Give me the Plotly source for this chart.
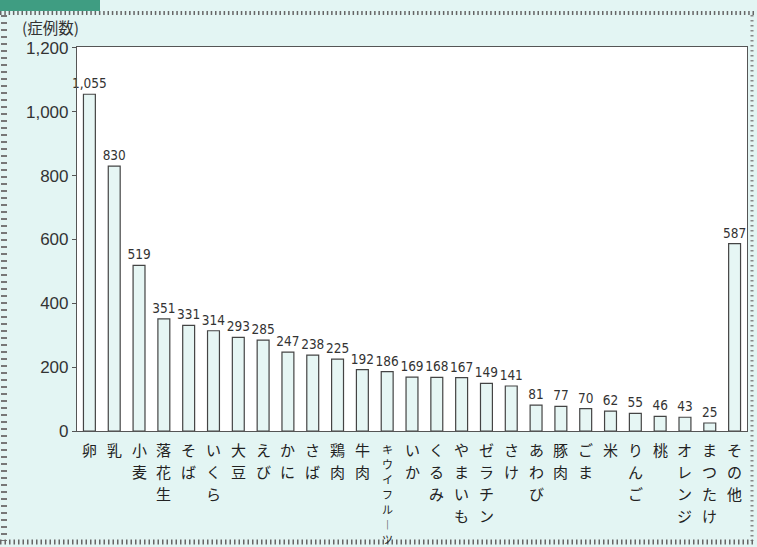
import plotly.graph_objects as go

categories = ["卵", "乳", "小麦", "落花生", "そば", "いくら", "大豆", "えび", "かに", "さば",
              "鶏肉", "牛肉", "キウイフルーツ", "いか", "くるみ", "やまいも", "ゼラチン", "さけ",
              "あわび", "豚肉", "ごま", "米", "りんご", "桃", "オレンジ", "まつたけ", "その他"]
cases = [1055, 830, 519, 351, 331, 314, 293, 285, 247, 238, 225, 192, 186, 169, 168, 167,
         149, 141, 81, 77, 70, 62, 55, 46, 43, 25, 587]
y_ticks = [0, 200, 400, 600, 800, 1000, 1200]
y_title = "(症例数)"

W, H = 757, 547
L, R, T, B = 77, 10, 47, 116
pw, ph = W - L - R, H - T - B

def px2x(px):
    return (px - L) / pw

def px2y(py):
    return (H - B - py) / ph

BG = "#e3f5f3"
fig = go.Figure()
fig.add_trace(go.Bar(
    x=list(range(len(categories))), y=cases, width=0.48,
    marker=dict(color="#e6f6f4", line=dict(color="#444444", width=1.2)),
    texttemplate="%{y:,}", textposition="outside", cliponaxis=False,
    constraintext="none", textangle=0,
    textfont=dict(family="DejaVu Sans Condensed, Liberation Sans Narrow, sans-serif",
                  size=13.5, color="#333333"),
    hoverinfo="skip",
))

annotations = []
for i, c in enumerate(categories):
    chars = ["︱" if ch == "ー" else ch for ch in c]
    long = len(chars) > 5
    size = 11 if long else 15
    step = 15 if long else 22
    for j, ch in enumerate(chars):
        annotations.append(dict(
            x=i, xref="x", y=px2y(449 + j * step), yref="paper",
            yanchor="middle", xanchor="center", text=ch, showarrow=False,
            font=dict(family="Noto Sans CJK JP", size=size, color="#222222"),
            borderpad=0,
        ))
annotations.append(dict(
    x=px2x(20), xref="paper", y=px2y(27), yref="paper", xanchor="left", yanchor="middle",
    text=y_title, showarrow=False,
    font=dict(family="Noto Sans CJK JP", size=15.5, color="#333333"),
))

shapes = [
    dict(type="rect", xref="paper", yref="paper", x0=px2x(0), x1=px2x(100),
         y0=px2y(11), y1=px2y(-2), fillcolor="#3f9d82", line=dict(width=0), layer="above"),
    dict(type="line", xref="paper", yref="paper", x0=px2x(0), x1=px2x(754),
         y0=px2y(13), y1=px2y(13), line=dict(color="#666666", width=4, dash="1.5px,2.8px")),
    dict(type="line", xref="paper", yref="paper", x0=px2x(4), x1=px2x(4),
         y0=px2y(15), y1=px2y(541), line=dict(color="#777777", width=6, dash="2px,5px")),
    dict(type="line", xref="paper", yref="paper", x0=px2x(752), x1=px2x(752),
         y0=px2y(15), y1=px2y(541), line=dict(color="#888888", width=3, dash="1.5px,3.5px")),
    dict(type="line", xref="paper", yref="paper", x0=px2x(0), x1=px2x(754),
         y0=px2y(542), y1=px2y(542), line=dict(color="#666666", width=5, dash="1.5px,3px")),
]

fig.update_layout(
    width=W, height=H,
    margin=dict(l=L, r=R, t=T, b=B, pad=0),
    paper_bgcolor=BG, plot_bgcolor="#ffffff",
    showlegend=False, bargap=0.5,
    annotations=annotations, shapes=shapes,
    xaxis=dict(range=[-0.5, len(categories) - 0.5], showticklabels=False, ticks="",
               showgrid=False, zeroline=False, showline=True, linecolor="#555555",
               linewidth=1.2, mirror=True, fixedrange=True),
    yaxis=dict(range=[0, 1203], tickvals=y_ticks,
               ticktext=[f"{v:,}" for v in y_ticks],
               ticks="outside", ticklen=4, tickcolor="#555555",
               tickfont=dict(family="Liberation Sans, Arial, sans-serif", size=17, color="#333333"),
               showgrid=False, zeroline=False, showline=True, linecolor="#555555",
               linewidth=1.2, mirror=True, fixedrange=True),
)

fig.write_html("out.html")
